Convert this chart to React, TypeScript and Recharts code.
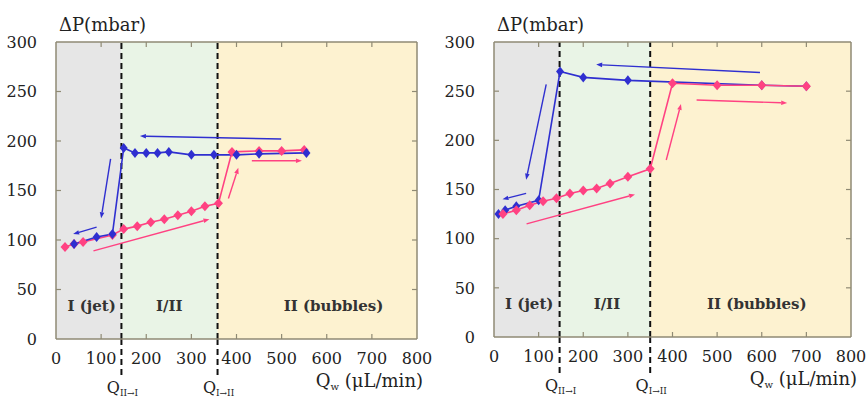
import React from 'react';
import { ComposedChart, Line, XAxis, YAxis, ReferenceArea, ReferenceLine } from 'recharts';

// ---- data ----
const xTicks = [0, 100, 200, 300, 400, 500, 600, 700, 800];
const yTicks = [0, 50, 100, 150, 200, 250, 300];

// left panel
const leftPinkQ = [20, 40, 60, 125, 150, 180, 210, 240, 270, 300, 330, 360, 390, 450, 500, 550];
const leftPinkP = [93, 96, 98, 105, 111, 114, 118, 121, 125, 129, 134, 137, 189, 190, 190, 191];
const leftBlueQ = [555, 450, 400, 350, 300, 250, 225, 200, 175, 150, 125, 90, 40];
const leftBlueP = [188, 187, 186, 186, 186, 189, 188, 188, 188, 193, 106, 103, 96];
const leftBounds = [145, 358];

// right panel
const rightPinkQ = [20, 50, 80, 110, 140, 170, 200, 230, 260, 300, 350, 400, 500, 600, 700];
const rightPinkP = [125, 129, 134, 138, 141, 146, 149, 151, 156, 163, 171, 258, 256, 256, 255];
const rightBlueQ = [700, 600, 300, 200, 148, 100, 50, 25, 10];
const rightBlueP = [255, 256, 261, 264, 270, 139, 133, 129, 125];
const rightBounds = [147, 350];

// sweep-direction arrows: [fromQ, fromP, toQ, toP]
const leftBlueArrows = [[499, 202, 186, 205], [121, 182, 100, 122], [90, 113, 38, 106]];
const leftPinkArrows = [[83, 89, 340, 121], [382, 142, 404, 173], [434, 180, 545, 180]];
const rightBlueArrows = [[596, 269, 229, 277], [117, 257, 72, 160], [72, 146, 19, 140]];
const rightPinkArrows = [[73, 115, 316, 145], [386, 180, 419, 237], [454, 241, 657, 238]];

const regionNames = ['I (jet)', 'I/II', 'II (bubbles)'];
const leftNameQ = [79, 251, 615];
const rightNameQ = [79, 253, 589];

const FONT = '"DejaVu Serif", serif';
const BLUE = '#2f2fd0';
const PINK = '#ff4282';
const FRAME = '#8f8a74';
const GRAY = '#e6e6e6';
const GREEN = '#e9f4e6';
const YELLOW = '#fdf2d0';

const toRows = (q: number[], p: number[]) => q.map((v, i) => ({ q: v, p: p[i] }));

const diamond = (color: string, rx: number, ry: number) => (props: any) => {
  const { cx, cy, index } = props;
  if (cx == null || cy == null) return <g key={index} />;
  return (
    <polygon
      key={index}
      points={`${cx},${cy - ry} ${cx + rx},${cy} ${cx},${cy + ry} ${cx - rx},${cy}`}
      fill={color}
    />
  );
};

const arrowShape = (color: string) => (props: any) => {
  const { x1, y1, x2, y2 } = props;
  const a = Math.atan2(y2 - y1, x2 - x1);
  const L = 6;
  const W = 2.3;
  const bx = x2 - L * Math.cos(a);
  const by = y2 - L * Math.sin(a);
  const px = W * Math.sin(a);
  const py = W * Math.cos(a);
  return (
    <g>
      <line x1={x1} y1={y1} x2={bx} y2={by} stroke={color} strokeWidth={1.4} />
      <polygon points={`${x2},${y2} ${bx + px},${by - py} ${bx - px},${by + py}`} fill={color} />
    </g>
  );
};

// short inward tick marks at both ends of a reference line
const tickShape = (props: any) => {
  const { x1, y1, x2, y2 } = props;
  const T = 5;
  if (Math.abs(x2 - x1) > Math.abs(y2 - y1)) {
    const l = Math.min(x1, x2);
    const r = Math.max(x1, x2);
    return (
      <g>
        <line x1={l} x2={l + T} y1={y1} y2={y1} stroke={FRAME} strokeWidth={1.2} />
        <line x1={r - T} x2={r} y1={y1} y2={y1} stroke={FRAME} strokeWidth={1.2} />
      </g>
    );
  }
  const t = Math.min(y1, y2);
  const b = Math.max(y1, y2);
  return (
    <g>
      <line x1={x1} x2={x1} y1={t} y2={t + T} stroke={FRAME} strokeWidth={1.2} />
      <line x1={x1} x2={x1} y1={b - T} y2={b} stroke={FRAME} strokeWidth={1.2} />
    </g>
  );
};

const boundLabel = (sub: string) => (props: any) => {
  const vb = props.viewBox || {};
  const x = vb.x;
  const bottom = vb.y + vb.height;
  return (
    <g>
      <line x1={x} x2={x} y1={bottom} y2={bottom + 38} stroke="#111" strokeWidth={2} strokeDasharray="6 4" />
      <text x={x + 1} y={bottom + 54} textAnchor="middle" fontFamily={FONT} fontSize={16} fill="#222">
        Q<tspan fontSize={9} dy={3}>{sub}</tspan>
      </text>
    </g>
  );
};

const regionLabel = (text: string, q: number, q1: number, q2: number) => (props: any) => {
  const vb = props.viewBox || {};
  const x = vb.x + ((q - q1) / (q2 - q1)) * vb.width;
  const y = vb.y + vb.height - 28;
  return (
    <text x={x} y={y} textAnchor="middle" fontFamily={FONT} fontWeight="bold" fontSize={15} fill="#333">
      {text}
    </text>
  );
};

const yTitle = (props: any) => {
  const vb = props.viewBox || {};
  return (
    <text x={vb.x + vb.width + 3} y={vb.y - 11} fontFamily={FONT} fontSize={18} fill="#222">
      ΔP(mbar)
    </text>
  );
};

const xTitle = (props: any) => {
  const vb = props.viewBox || {};
  return (
    <text x={vb.x + vb.width + 6} y={vb.y + 48} textAnchor="end" fontFamily={FONT} fontSize={18} fill="#222">
      Q<tspan fontSize={10} dy={3}>w</tspan>
      <tspan dy={-3}> (μL/min)</tspan>
    </text>
  );
};

const tickStyle = { fontFamily: FONT, fontSize: 16, fill: '#222' };

interface PanelProps {
  width: number;
  margin: { top: number; right: number; bottom: number; left: number };
  yWidth: number;
  pink: { q: number; p: number }[];
  blue: { q: number; p: number }[];
  bounds: number[];
  nameQ: number[];
  blueArrows: number[][];
  pinkArrows: number[][];
  blueOnTop: boolean;
}

const Panel: React.FC<PanelProps> = ({ width, margin, yWidth, pink, blue, bounds, nameQ, blueArrows, pinkArrows, blueOnTop }) => {
  const [b1, b2] = bounds;
  const edges = [0, b1, b2, 800];
  const fills = [GRAY, GREEN, YELLOW];

  const pinkLine = (
    <Line
      key="pink"
      data={pink}
      dataKey="p"
      type="linear"
      stroke={PINK}
      strokeWidth={1.6}
      dot={diamond(PINK, 4.5, 5)}
      activeDot={false}
      isAnimationActive={false}
    />
  );
  const blueLine = (
    <Line
      key="blue"
      data={blue}
      dataKey="p"
      type="linear"
      stroke={BLUE}
      strokeWidth={1.6}
      dot={diamond(BLUE, 4, 5)}
      activeDot={false}
      isAnimationActive={false}
    />
  );

  return (
    <ComposedChart width={width} height={399} margin={margin}>
      {fills.map((f, i) => (
        <ReferenceArea
          key={`area-${i}`}
          x1={edges[i]}
          x2={edges[i + 1]}
          y1={0}
          y2={300}
          fill={f}
          fillOpacity={1}
          stroke="none"
          label={regionLabel(regionNames[i], nameQ[i], edges[i], edges[i + 1])}
        />
      ))}
      <XAxis
        dataKey="q"
        type="number"
        domain={[0, 800]}
        ticks={xTicks}
        interval={0}
        height={30}
        tickLine={false}
        tickMargin={8}
        axisLine={false}
        tick={tickStyle}
        label={xTitle}
      />
      <YAxis
        type="number"
        domain={[0, 300]}
        ticks={yTicks}
        interval={0}
        width={yWidth}
        tickLine={false}
        tickMargin={13}
        axisLine={false}
        tick={tickStyle}
        label={yTitle}
      />
      {xTicks.slice(1, -1).map((v) => (
        <ReferenceLine key={`xt-${v}`} x={v} shape={tickShape} />
      ))}
      {yTicks.slice(1, -1).map((v) => (
        <ReferenceLine key={`yt-${v}`} y={v} shape={tickShape} />
      ))}
      <ReferenceLine x={b1} stroke="#111" strokeWidth={2} strokeDasharray="6 4" label={boundLabel('II→I')} />
      <ReferenceLine x={b2} stroke="#111" strokeWidth={2} strokeDasharray="6 4" label={boundLabel('I→II')} />
      <ReferenceLine x={0} stroke={FRAME} strokeWidth={1.5} />
      <ReferenceLine x={800} stroke={FRAME} strokeWidth={1.5} />
      <ReferenceLine y={0} stroke={FRAME} strokeWidth={1.5} />
      <ReferenceLine y={300} stroke={FRAME} strokeWidth={1.5} />
      {blueArrows.map((a, i) => (
        <ReferenceLine
          key={`ba-${i}`}
          segment={[{ x: a[0], y: a[1] }, { x: a[2], y: a[3] }]}
          ifOverflow="visible"
          stroke={BLUE}
          shape={arrowShape(BLUE)}
        />
      ))}
      {pinkArrows.map((a, i) => (
        <ReferenceLine
          key={`pa-${i}`}
          segment={[{ x: a[0], y: a[1] }, { x: a[2], y: a[3] }]}
          ifOverflow="visible"
          stroke={PINK}
          shape={arrowShape(PINK)}
        />
      ))}
      {blueOnTop ? [pinkLine, blueLine] : [blueLine, pinkLine]}
    </ComposedChart>
  );
};

export default function App() {
  return (
    <div style={{ position: 'absolute', left: 0, top: 0, width: 867, height: 399, background: '#fff' }}>
      <div style={{ position: 'absolute', left: 430, top: 0 }}>
        <Panel
          width={437}
          margin={{ top: 42, right: 16, bottom: 32, left: 14 }}
          yWidth={50}
          pink={toRows(rightPinkQ, rightPinkP)}
          blue={toRows(rightBlueQ, rightBlueP)}
          bounds={rightBounds}
          nameQ={rightNameQ}
          blueArrows={rightBlueArrows}
          pinkArrows={rightPinkArrows}
          blueOnTop={false}
        />
      </div>
      <div style={{ position: 'absolute', left: 0, top: 0 }}>
        <Panel
          width={445}
          margin={{ top: 42, right: 28, bottom: 30, left: 10 }}
          yWidth={46}
          pink={toRows(leftPinkQ, leftPinkP)}
          blue={toRows(leftBlueQ, leftBlueP)}
          bounds={leftBounds}
          nameQ={leftNameQ}
          blueArrows={leftBlueArrows}
          pinkArrows={leftPinkArrows}
          blueOnTop={true}
        />
      </div>
    </div>
  );
}
